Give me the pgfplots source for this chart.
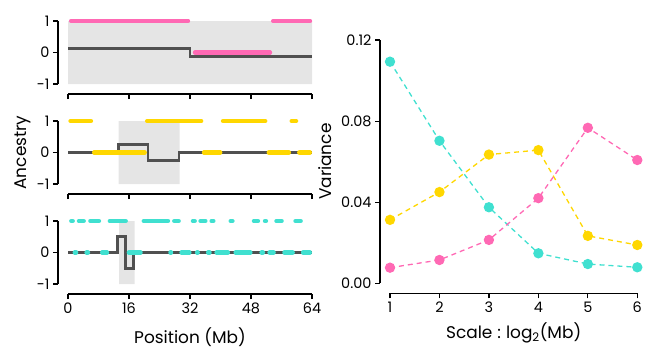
\documentclass[border=0pt]{standalone}
\usepackage{fontspec}
\setmainfont{Poppins}
\usepackage{pgfplots}
\pgfplotsset{compat=1.18}
\definecolor{cpink}{HTML}{FF69B4}
\definecolor{cgold}{HTML}{FFD700}
\definecolor{ccyan}{HTML}{40E0D0}
\definecolor{cline}{HTML}{505050}
\definecolor{cshade}{HTML}{E5E5E5}
\newcommand\lblfont{\fontsize{17}{19}\selectfont}
\pgfplotsset{
  base/.style={
    scale only axis,
    axis x line=bottom, axis y line=left,
    axis line style={black, line width=1.2bp, -},
    tick style={black, line width=1.2bp},
    tick align=outside,
    major tick length=5bp,
    clip=false,
    /pgf/number format/assume math mode=true,
    tick label style={font=\fontsize{14.5}{16}\selectfont},
    axis x line shift=10bp, axis y line shift=10bp,
  },
  anc/.style={base, width=244bp, height=63bp, xmin=0, xmax=64, ymin=-1, ymax=1,
     xtick={0,16,32,48,64}, ytick={-1,0,1}, unbounded coords=jump},
  seg/.style={line width=4.2bp, line cap=round},
  stp/.style={cline, line width=2.6bp, line join=miter},
  var/.style={line width=1.3bp, dash pattern=on 5bp off 4bp, mark=*, mark size=4.5bp, mark options={solid}},
}
\begin{document}
\begin{tikzpicture}
\useasboundingbox (0,0) rectangle (654bp,-348bp);
% panel 1
\begin{axis}[anc, at={(68bp,-84bp)}, anchor=south west, xticklabels={}]
\addplot[fill=cshade, draw=none] coordinates {(0,-1)(64,-1)(64,1)(0,1)} \closedcycle;
\addplot[stp] coordinates {(0,0.12)(32,0.12)(32,-0.13)(64,-0.13)};
\addplot[cpink, seg] coordinates {(0.8,1)(31.5,1) (32,nan) (33.3,0)(53,0) (53.4,nan) (53.8,1)(63.5,1)};
\end{axis}
% panel 2
\begin{axis}[anc, at={(68bp,-184bp)}, anchor=south west, xticklabels={},
  ylabel={Ancestry}, every axis y label/.style={at={(rel axis cs:0,0.5)}, xshift=-45.5bp, rotate=90, anchor=center, font=\lblfont}]
\addplot[fill=cshade, draw=none] coordinates {(13.3,-1)(29.3,-1)(29.3,1)(13.3,1)} \closedcycle;
\addplot[stp] coordinates {(0,0)(13.2,0)(13.2,0.26)(21.0,0.26)(21.0,-0.26)(29.1,-0.26)(29.1,0)(64,0)};
\addplot[cgold, seg] coordinates {
(0.65,1)(6.05,1) (6.4,nan) (20.75,1)(34.95,1) (35.3,nan) (40.65,1)(51.75,1) (52,nan) (58.65,1)(59.85,1) (60,nan)
(6.85,0)(20.15,0) (20.4,nan) (35.65,0)(39.95,0) (40.3,nan) (52.65,0)(57.95,0) (58.3,nan) (60.65,0)(63.45,0)};
\end{axis}
% panel 3
\begin{axis}[anc, at={(68bp,-284bp)}, anchor=south west,
  xlabel={Position (Mb)}, every axis x label/.style={at={(rel axis cs:0.5,0)}, yshift=-52.7bp, anchor=center, font=\lblfont}]
\addplot[fill=cshade, draw=none] coordinates {(13.4,-1)(17.5,-1)(17.5,1)(13.4,1)} \closedcycle;
\addplot[stp] coordinates {(0,0)(13.0,0)(13.0,0.5)(15.1,0.5)(15.1,-0.5)(17.2,-0.5)(17.2,0)(64,0)};
\addplot[ccyan, seg] coordinates {
(0.85,1)(1.25,1) (1.5,nan) (2.85,1)(4.15,1) (4.5,nan) (5.85,1)(8.15,1) (8.5,nan) (10.95,1)(15.15,1) (15.5,nan)
(19.85,1)(26.25,1) (26.5,nan) (27.85,1)(29.05,1) (29.5,nan) (32.75,1)(33.25,1) (33.5,nan) (34.75,1)(36.05,1) (36.3,nan)
(37.65,1)(38.15,1) (38.5,nan) (42.65,1)(43.15,1) (43.5,nan) (48.75,1)(49.85,1) (50.2,nan) (51.65,1)(51.95,1) (52.3,nan)
(54.65,1)(56.05,1) (56.3,nan) (59.65,1)(61.05,1) (61.5,nan)
(1.75,0)(2.15,0) (2.5,nan) (4.85,0)(5.25,0) (5.5,nan) (8.95,0)(10.25,0) (10.5,nan) (15.95,0)(19.05,0) (19.3,nan)
(26.85,0)(27.05,0) (27.3,nan) (29.75,0)(31.85,0) (32.1,nan) (33.85,0)(34.05,0) (34.3,nan) (36.75,0)(37.15,0) (37.4,nan)
(38.95,0)(41.95,0) (42.2,nan) (43.95,0)(47.85,0) (48.1,nan) (50.75,0)(51.15,0) (51.4,nan) (52.85,0)(53.95,0) (54.2,nan)
(56.75,0)(58.95,0) (59.2,nan) (61.65,0)(63.45,0)};
\end{axis}
% right panel
\begin{axis}[base, at={(390bp,-283.3bp)}, anchor=south west, width=247.3bp, height=243.3bp,
  xmin=1, xmax=6, ymin=0, ymax=0.12, xtick={1,2,3,4,5,6}, ytick={0,0.04,0.08,0.12},
  yticklabel style={/pgf/number format/.cd, fixed, fixed zerofill, precision=2},
  ylabel={Variance}, every axis y label/.style={at={(rel axis cs:0,0.5)}, xshift=-65bp, rotate=90, anchor=center, font=\lblfont},
  xlabel={Scale\hspace{5bp}:\hspace{5bp}log\textsubscript{2}(Mb)}, every axis x label/.style={at={(rel axis cs:0.5,0)}, yshift=-49.7bp, anchor=center, font=\lblfont}]
\addplot[ccyan, var] coordinates {(1,0.1093)(2,0.0703)(3,0.0375)(4,0.0148)(5,0.0095)(6,0.0079)};
\addplot[cgold, var] coordinates {(1,0.0313)(2,0.0450)(3,0.0635)(4,0.0657)(5,0.0234)(6,0.0189)};
\addplot[cpink, var] coordinates {(1,0.0077)(2,0.0115)(3,0.0214)(4,0.0420)(5,0.0767)(6,0.0608)};
\end{axis}
\end{tikzpicture}
\end{document}
